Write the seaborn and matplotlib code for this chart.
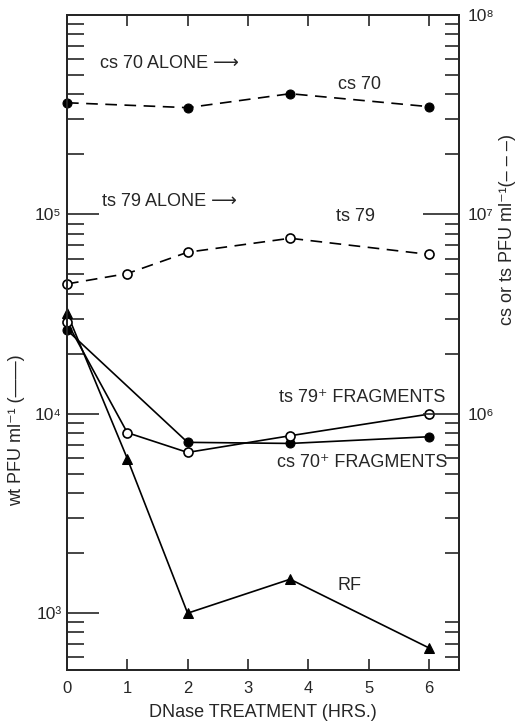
import matplotlib
matplotlib.use("Agg")
import matplotlib.pyplot as plt
import matplotlib.ticker as mticker
import numpy as np
import pandas as pd
import seaborn as sns

# ---- data ----
hours_rf = [0, 1, 2, 3.7, 6]
rf_wt = [32000, 5960, 1000, 1480, 670]
hours_cs_frag = [0, 2, 3.7, 6]
cs70_frag_wt = [26300, 7190, 7100, 7670]
hours_ts_frag = [0, 1, 2, 3.7, 6]
ts79_frag_wt = [28800, 8040, 6400, 7760, 9960]
hours_cs_alone = [0, 2, 3.7, 6]
cs70_alone = [3.63e7, 3.43e7, 4.03e7, 3.47e7]
hours_ts_alone = [0, 1, 2, 3.7, 6]
ts79_alone = [4.48e6, 5.05e6, 6.46e6, 7.59e6, 6.3e6]

x_ticks = [0, 1, 2, 3, 4, 5, 6]
left_ticks = [1e3, 1e4, 1e5]
left_tick_labels = ["10³", "10⁴", "10⁵"]
right_ticks = [1e6, 1e7, 1e8]
right_tick_labels = ["10⁶", "10⁷", "10⁸"]

sns.set_style("ticks")
plt.rcParams['font.family'] = ['Liberation Sans', 'DejaVu Sans']
FAM = ['Liberation Sans', 'DejaVu Sans']

fig = plt.figure(figsize=(5.17, 7.22), dpi=100)
ax = fig.add_axes([67/517, 1-670/722, (459-67)/517, (670-15)/722])
ax2 = ax.twinx()

lw = 1.2
sns.lineplot(x=hours_rf, y=rf_wt, ax=ax, color='black', lw=lw, marker='^',
             markersize=7, markerfacecolor='black', markeredgecolor='black')
sns.lineplot(x=hours_cs_frag, y=cs70_frag_wt, ax=ax, color='black', lw=lw, marker='o',
             markersize=6.5, markerfacecolor='black', markeredgecolor='black')
sns.lineplot(x=hours_ts_frag, y=ts79_frag_wt, ax=ax, color='black', lw=lw, marker='o',
             markersize=6.5, markerfacecolor='white', markeredgecolor='black', markeredgewidth=1.2)

sns.lineplot(x=hours_cs_alone, y=cs70_alone, ax=ax2, color='black', lw=lw, marker='o',
             markersize=6.5, markerfacecolor='black', markeredgecolor='black', dashes=(7, 4.5))
sns.lineplot(x=hours_ts_alone, y=ts79_alone, ax=ax2, color='black', lw=lw, marker='o',
             markersize=6.5, markerfacecolor='white', markeredgecolor='black', markeredgewidth=1.2,
             dashes=(7, 4.5))
for a in (ax, ax2):
    for ln in a.lines:
        ln.set_clip_on(False)

ylo, yhi = 10**2.715, 1e6
ax.set_yscale('log')
ax2.set_yscale('log')
ax.set_ylim(ylo, yhi)
ax2.set_ylim(ylo*100, yhi*100)
ax.set_xlim(0, 6.5)

ax.set_xticks(x_ticks)
ax.set_xticklabels([str(t) for t in x_ticks], fontsize=12)
ax.set_yticks(left_ticks)
ax.set_yticklabels(left_tick_labels, fontsize=12.5)
ax.yaxis.set_minor_locator(mticker.LogLocator(base=10, subs=np.arange(2, 10)))
ax.yaxis.set_minor_formatter(mticker.NullFormatter())
ax2.set_yticks(right_ticks)
ax2.set_yticklabels(right_tick_labels, fontsize=12.5)
ax2.yaxis.set_minor_locator(mticker.LogLocator(base=10, subs=np.arange(2, 10)))
ax2.yaxis.set_minor_formatter(mticker.NullFormatter())

ax.tick_params(axis='x', which='major', direction='in', length=8, width=1.2, top=True, pad=8)
ax.tick_params(axis='y', which='major', direction='in', length=23, width=1.2, pad=4)
ax.tick_params(axis='y', which='minor', direction='in', length=12, width=1.2)
ax2.tick_params(axis='y', which='major', direction='in', length=26, width=1.2, pad=6)
ax2.tick_params(axis='y', which='minor', direction='in', length=10, width=1.2)
for a in (ax, ax2):
    for s in a.spines.values():
        s.set_linewidth(1.4)
        s.set_visible(True)

ax.set_xlabel("DNase TREATMENT (HRS.)", fontsize=13, labelpad=6)
ax.set_ylabel("wt PFU ml⁻¹ (——)", fontsize=13)
ax2.set_ylabel("cs or ts PFU ml⁻¹(– – –)", fontsize=13, rotation=90)
ax.yaxis.set_label_coords((17-67)/392, 0.366, transform=ax.transAxes)
ax2.yaxis.set_label_coords((508-67)/392, 0.672, transform=ax2.transAxes)
ax.yaxis.label.set_va('center')
ax2.yaxis.label.set_va('center')

fs = 13
ax.text(0.55, 10**5.755, "cs 70 ALONE ⟶", fontsize=fs, family=FAM, va='center', ha='left')
ax.text(4.49, 10**5.65, "cs 70", fontsize=fs, family=FAM, va='center', ha='left')
ax.text(0.58, 10**5.065, "ts 79 ALONE ⟶", fontsize=fs, family=FAM, va='center', ha='left')
ax.text(4.46, 10**4.99, "ts 79", fontsize=fs, family=FAM, va='center', ha='left')
ax.text(3.51, 10**4.08, "ts 79⁺ FRAGMENTS", fontsize=fs, family=FAM, va='center', ha='left')
ax.text(3.48, 10**3.755, "cs 70⁺ FRAGMENTS", fontsize=fs, family=FAM, va='center', ha='left')
ax.text(4.49, 10**3.14, "RF", fontsize=fs, family=FAM, va='center', ha='left')

fig.savefig("out.png", dpi=100)
